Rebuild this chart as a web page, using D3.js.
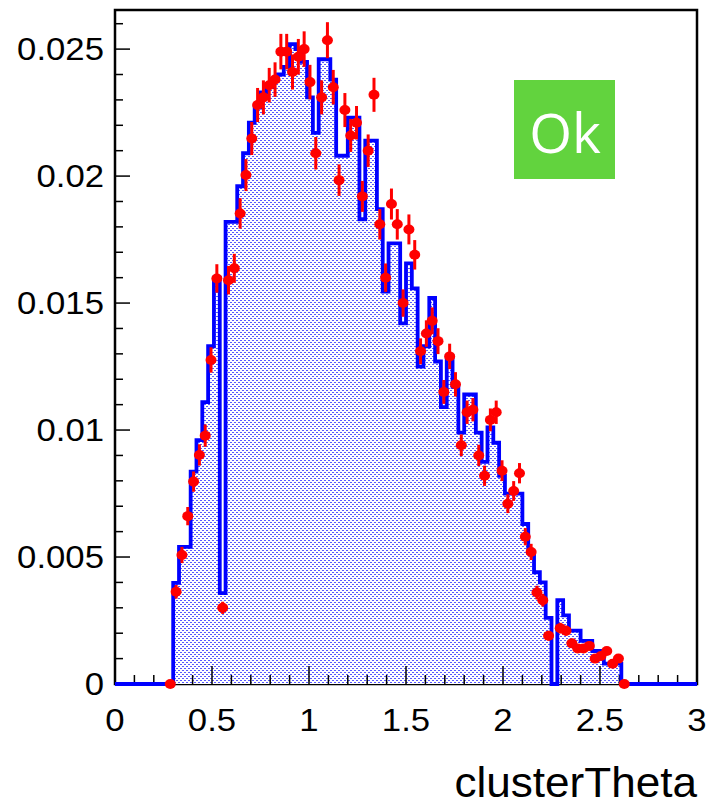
<!DOCTYPE html>
<html><head><meta charset="utf-8">
<script src="https://cdn.jsdelivr.net/npm/d3@7"></script>
<style>html,body{margin:0;padding:0;background:#fff;} svg{display:block}</style>
</head><body>
<svg id="c" width="709" height="806"></svg>
<script>
// ---- data ----
const xMin = 0, xMax = 3, nBins = 100;
const mcValues = [
  0,0,0,0,0,0,0,0,0,0,
  0.00398,0.0054,0.0054,0.00836,0.0096,0.0111,0.0133,0.0160,0.00358,0.0182,
  0.0182,0.0196,0.0209,0.0221,0.0227,0.0233,0.0235,0.0238,0.0240,0.0243,
  0.0252,0.0250,0.0245,0.0231,0.0217,0.0246,0.0246,0.0238,0.0208,0.0208,
  0.0223,0.0223,0.0183,0.0214,0.0214,0.0187,0.01545,0.01735,0.01735,0.0142,
  0.01656,0.01558,0.0125,0.0133,0.0152,0.0127,0.0109,0.0129,0.0117,0.0099,
  0.0114,0.0114,0.0099,0.00875,0.0101,0.0095,0.0082,0.0075,0.0075,0.0075,
  0.0063,0.0052,0.0044,0.0040,0.0026,0,0.0033,0.0027,0.0021,0.0021,
  0.0017,0.0017,0.0013,0.0013,0.0008,0.0008,0.0008,0,0,0,
  0,0,0,0,0,0,0,0,0,0
];
const dataStartBin = 9;
const dataValues = [
  0,
  0.00363,0.00508,0.00661,0.00797,0.00902,0.00978,0.01276,0.01597,0.0030,0.0159,
  0.01637,0.01853,0.02004,0.02148,0.0228,0.0231,0.02358,0.0238,0.0249,0.0249,
  0.0241,0.0247,0.0250,0.0237,0.0209,0.0231,0.02535,0.0235,0.01984,0.0226,
  0.0216,0.0221,0.0192,0.0210,0.0232,0.0181,0.0160,0.0189,0.0181,0.0150,
  0.0179,0.0169,0.0131,0.0138,0.0143,0.0135,0.0115,0.0129,0.0118,0.0094,
  0.0107,0.0108,0.0090,0.0082,0.0104,0.0107,0.0084,0.0071,0.0076,0.0083,
  0.0058,0.0052,0.0036,0.0033,0.0019,null,0.0022,0.0021,0.0016,0.0014,
  0.0014,0.0015,0.0010,0.0011,0.0013,0.0008,0.0010,0
];
const dataErrors = [
  0,
  0.00027,0.00032,0.00036,0.0004,0.00042,0.00044,0.0005,0.00056,0.00024,0.00056,
  0.00057,0.0006,0.00063,0.00065,0.00067,0.00067,0.00068,0.00068,0.0007,0.0007,
  0.00069,0.0007,0.0007,0.00068,0.00064,0.00067,0.00071,0.00068,0.00062,0.00067,
  0.00065,0.00066,0.00061,0.00064,0.00067,0.0006,0.00056,0.00061,0.0006,0.00054,
  0.00059,0.00058,0.00051,0.00052,0.00053,0.00051,0.00047,0.0005,0.00048,0.00043,
  0.00046,0.00046,0.00042,0.0004,0.00045,0.00046,0.00041,0.00037,0.00039,0.0004,
  0.00034,0.00032,0.00027,0.00025,0.00019,null,0.00021,0.0002,0.00018,0.00017,
  0.00017,0.00017,0.00014,0.00015,0.00016,0.00013,0.00014,0
];
const xTickValues = [0, 0.5, 1, 1.5, 2, 2.5, 3];
const xTickLabels = ["0", "0.5", "1", "1.5", "2", "2.5", "3"];
const yTickValues = [0, 0.005, 0.01, 0.015, 0.02, 0.025];
const yTickLabels = ["0", "0.005", "0.01", "0.015", "0.02", "0.025"];
const xTitle = "clusterTheta";
const statusText = "Ok";

// ---- drawing ----
const svg = d3.select("#c");
const L = 115, R = 697, T = 10, B = 684;
const x = d3.scaleLinear().domain([xMin, xMax]).range([L, R]);
const y = d3.scaleLinear().domain([0, 0.02654]).range([B, T]);
const bw = (xMax - xMin) / nBins;

svg.append("rect").attr("width", 709).attr("height", 806).attr("fill", "#fff");

const defs = svg.append("defs");
const pat = defs.append("pattern").attr("id", "dots").attr("patternUnits", "userSpaceOnUse")
  .attr("width", 4).attr("height", 4);
pat.append("rect").attr("width", 4).attr("height", 4).attr("fill", "#fff");
pat.append("rect").attr("x", 0).attr("y", 0).attr("width", 2).attr("height", 1).attr("fill", "#5858ff");
pat.append("rect").attr("x", 2).attr("y", 2).attr("width", 2).attr("height", 1).attr("fill", "#5858ff");

// frame
svg.append("rect").attr("x", L).attr("y", T).attr("width", R - L).attr("height", B - T)
  .attr("fill", "none").attr("stroke", "#000").attr("stroke-width", 2.5);

const pts = mcValues.map((v, i) => [xMin + i * bw, v]);
pts.push([xMax, mcValues[nBins - 1]]);

svg.append("path").datum(pts)
  .attr("d", d3.area().x(d => x(d[0])).y0(y(0)).y1(d => y(d[1])).curve(d3.curveStepAfter))
  .attr("fill", "url(#dots)").attr("shape-rendering", "crispEdges");

// ticks
const tk = svg.append("g").attr("stroke", "#000").attr("stroke-width", 1.5);
for (let k = 0; k <= 30; k++) {
  const v = k * 0.1;
  const major = k % 5 === 0;
  tk.append("line").attr("x1", x(v)).attr("x2", x(v)).attr("y1", B).attr("y2", B - (major ? 18 : 9));
}
for (let k = 0; k <= 26; k++) {
  const v = k * 0.001;
  const major = k % 5 === 0;
  tk.append("line").attr("x1", L).attr("x2", L + (major ? 15 : 8)).attr("y1", y(v)).attr("y2", y(v));
}

svg.append("path").datum(pts)
  .attr("d", d3.line().x(d => x(d[0])).y(d => y(d[1])).curve(d3.curveStepAfter))
  .attr("fill", "none").attr("stroke", "#0000ff").attr("stroke-width", 3.8);

// data points
const dpts = dataValues.map((v, j) => ({bin: dataStartBin + j, v, e: dataErrors[j]})).filter(d => d.v !== null);
const gp = svg.append("g");
dpts.forEach(d => {
  const cx = x(xMin + (d.bin + 0.5) * bw);
  if (d.e > 0) {
    gp.append("line").attr("x1", cx).attr("x2", cx).attr("y1", y(d.v - d.e)).attr("y2", y(d.v + d.e))
      .attr("stroke", "#ff0000").attr("stroke-width", 3);
    gp.append("line").attr("x1", x(xMin + d.bin * bw) - 1).attr("x2", x(xMin + (d.bin + 1) * bw) + 1)
      .attr("y1", y(d.v)).attr("y2", y(d.v)).attr("stroke", "#ff0000").attr("stroke-width", 3);
  }
  gp.append("ellipse").attr("cx", cx).attr("cy", y(d.v)).attr("rx", 5.5).attr("ry", 5).attr("fill", "#ff0000");
});

// labels
const font = "'Liberation Sans', Arial, Helvetica, sans-serif";
function label(ax, ay, anchor, size, sx, txt) {
  svg.append("g").attr("transform", `translate(${ax},${ay}) scale(${sx},1)`)
    .append("text").attr("text-anchor", anchor)
    .attr("font-family", font).attr("font-size", size).attr("fill", "#000").text(txt);
}
xTickValues.forEach((v, i) => label(x(v), 731, "middle", 31, 1.12, xTickLabels[i]));
yTickValues.forEach((v, i) => label(104, y(v) + 11, "end", 31, 1.12, yTickLabels[i]));
label(697, 797, "end", 42, 1.05, xTitle);

// status box
svg.append("rect").attr("x", 514).attr("y", 80).attr("width", 101).attr("height", 99).attr("fill", "#62d33e");
svg.append("text").attr("x", 565).attr("y", 153).attr("text-anchor", "middle")
  .attr("font-family", "'Open Sans', 'Noto Sans', sans-serif").attr("font-size", 55).attr("fill", "#fff").text(statusText);
</script></body></html>
